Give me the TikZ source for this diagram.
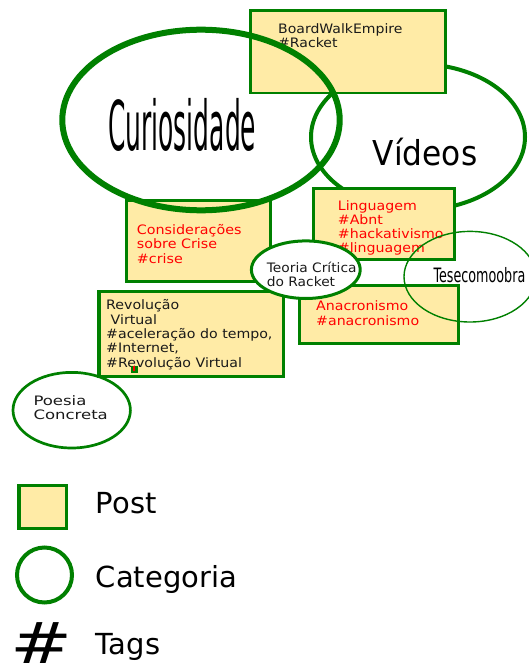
\documentclass[tikz,border=0pt]{standalone}
\usepackage{fontspec}
\setmainfont{DejaVu Sans}
\usepackage{graphicx}
\usetikzlibrary{shapes.geometric}
\definecolor{grn}{HTML}{008000}
\definecolor{postfill}{HTML}{FFEBA6}
\definecolor{txtred}{HTML}{FF0000}
\definecolor{txtdark}{HTML}{1A1A1A}
\newcommand{\postlines}[2][1.09]{\scalebox{#1}[1]{\begin{tabular}[t]{@{}l@{}}#2\end{tabular}}}
\tikzset{
  postbox/.style={draw=grn, fill=postfill, line width=2.7pt, rectangle, inner sep=0pt},
  catell/.style={draw=grn, ellipse, inner sep=0pt},
  btxt/.style={inner sep=0pt, anchor=base west, text=txtdark, font=\fontsize{13}{14.3}\selectfont},
  rtxt/.style={btxt, text=txtred},
  legtxt/.style={inner sep=0pt, anchor=base west, text=black, font=\fontsize{29}{32}\selectfont},
}
\begin{document}
\begin{tikzpicture}[x=1pt,y=-1pt]
\useasboundingbox (0,0) rectangle (528,666);
\fill[white] (0,0) rectangle (528,666);

% Videos category (under posts)
\node[catell, line width=4pt, minimum width=214pt, minimum height=146pt] (videos) at (418,137) {};

% posts under Curiosidade
\node[postbox, minimum width=194.6pt, minimum height=82.3pt] (bwe) at (348,51.8) {};
\node[btxt] (bwet) at (278,33.3) {\postlines[1.08]{BoardWalkEmpire\\\#Racket}};

\node[postbox, line width=2.8pt, minimum width=141.5pt, minimum height=70.6pt] (lng) at (383.9,224) {};
\node[rtxt] (lngt) at (337.7,210) {\postlines{Linguagem\\\#Abnt\\\#hackativismo\\\#linguagem}};

\node[postbox, minimum width=144pt, minimum height=80.6pt] (cons) at (198.3,241) {};
\node[rtxt] (const) at (136.7,234.5) {\postlines[1.1]{Considerações\\sobre Crise\\\#crise}};

% Curiosidade category
\node[catell, line width=6pt, minimum width=277.4pt, minimum height=180.6pt] (curio) at (201,120) {};
\node[inner sep=0pt, anchor=base west, font=\fontsize{68.6}{70}\selectfont] (curiot) at (108,150) {\scalebox{0.364}[1]{Curiosidade}};
\node[inner sep=0pt, anchor=base west, font=\fontsize{34.3}{36}\selectfont] (videost) at (372.7,165) {\scalebox{0.91}[1]{Vídeos}};

% Poesia Concreta
\node[catell, fill=white, line width=2.7pt, minimum width=117.4pt, minimum height=75.6pt] (poesia) at (71.7,410.2) {};
\node[btxt] (poesiat) at (33.3,405) {\postlines[1.27]{Poesia\\Concreta}};

% more posts
\node[postbox, line width=3pt, minimum width=158.7pt, minimum height=58pt] (ana) at (379.2,314.5) {};
\node[rtxt] (anat) at (316,310.7) {\postlines{Anacronismo\\\#anacronismo}};

\node[postbox, line width=3.3pt, minimum width=184.3pt, minimum height=85pt] (rev) at (191.2,334.2) {};
\node[btxt] (revt) at (106,309.8) {\postlines{Revolução\\\ Virtual\\\#aceleração do tempo,\\\#Internet,\\\#Revolução Virtual}};
\node[fill=grn, inner sep=0pt, minimum width=7pt, minimum height=7.5pt] (mark) at (134.6,369.7) {};
\node[fill=txtred, inner sep=0pt, minimum width=2.5pt, minimum height=5pt] (markr) at (133.8,368.8) {};

% Teoria Critica
\node[catell, fill=white, line width=3pt, minimum width=108.8pt, minimum height=57.6pt] (teoria) at (305.8,269.7) {};
\node[btxt] (teoriat) at (266.7,272.3) {\postlines[1.06]{Teoria Crítica\\do Racket}};

% Tese como obra
\node[catell, line width=1.4pt, minimum width=132pt, minimum height=90.6pt] (tese) at (470,276.7) {};
\node[inner sep=0pt, anchor=base west, font=\fontsize{19.8}{21}\selectfont] (teset) at (433.3,282.7) {\scalebox{0.643}[1]{Tesecomoobra}};

% legend
\node[postbox, line width=3.3pt, minimum width=47.7pt, minimum height=42.6pt] (legpost) at (42.8,507) {};
\node[legtxt] (legpostt) at (95.7,513.3) {Post};
\node[draw=grn, circle, line width=4pt, inner sep=0pt, minimum size=55pt] (legcat) at (44.5,575) {};
\node[legtxt] (legcatt) at (95.7,587.3) {Categoria};
\node[inner sep=0pt, anchor=base west, font=\fontsize{57}{59}\selectfont] (leghash) at (10.5,663) {\scalebox{1.3}[1]{\#}};
\node[legtxt] (legtagt) at (95.7,654.3) {Tags};
\end{tikzpicture}
\end{document}
